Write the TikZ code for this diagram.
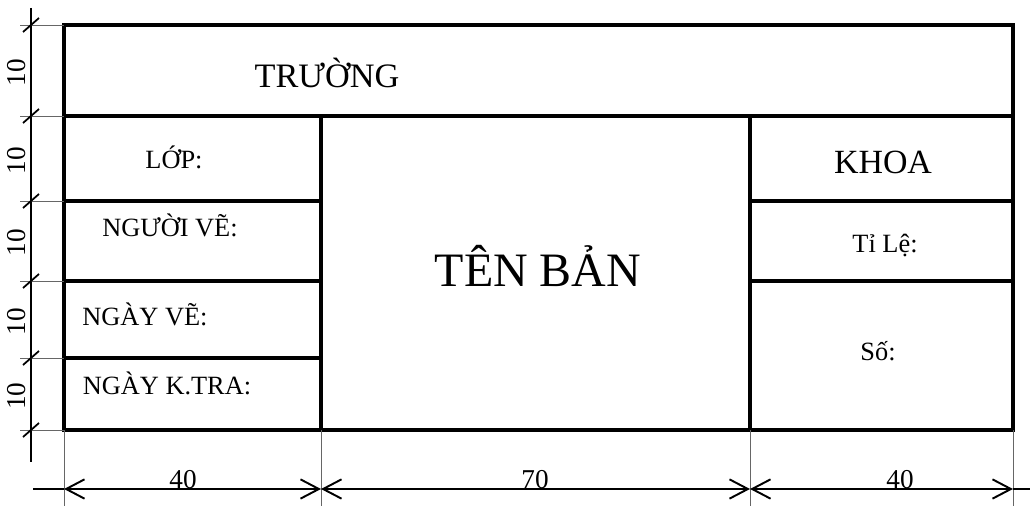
\documentclass[tikz,border=0pt]{standalone}
\usepackage{fontspec}
\setmainfont{Liberation Serif}
\usetikzlibrary{arrows.meta}
\tikzset{
	frame/.style={line width=2.3pt},
	cellline/.style={line width=1.8pt},
	thinline/.style={line width=0.5pt, black!60},
	dimtick/.style={line width=1pt},
	dimline/.style={line width=1.1pt, {Straight Barb[length=10.5pt,width=11pt,line width=1.1pt]}-{Straight Barb[length=10.5pt,width=11pt,line width=1.1pt]}},
	txt/.style={anchor=base, inner sep=0pt, font=\fontsize{15}{17}\selectfont},
	bigtxt/.style={anchor=base, inner sep=0pt, font=\fontsize{19.5}{22}\selectfont},
	dimtxt/.style={inner sep=0pt, font=\fontsize{15.5}{17}\selectfont}
}

\begin{document}
\begin{tikzpicture}[x=0.02cm, y=-0.02cm]
	\useasboundingbox (0,0) rectangle (1030,506);
	%%%%% FRAME %%%%%
	\draw[cellline] (64,116) -- (1013,116);
	\draw[cellline] (321,116) -- (321,430);
	\draw[cellline] (750,116) -- (750,430);
	\draw[cellline] (64,201) -- (321,201);
	\draw[cellline] (64,281) -- (321,281);
	\draw[cellline] (64,358) -- (321,358);
	\draw[cellline] (750,201) -- (1013,201);
	\draw[cellline] (750,281) -- (1013,281);
	\draw[frame] (64,25) rectangle (1013,430);
	
	%%%%% TEXTS %%%%%
	\node[bigtxt] (truong) at (327,88) {TRƯỜNG};
	\node[anchor=base, inner sep=0pt, font=\fontsize{27.3}{31}\selectfont] (tenban) at (538,287) {TÊN BẢN};
	\node[bigtxt, font=\fontsize{19.3}{22}\selectfont] (khoa) at (883,174) {KHOA};
	\node[txt] (tile) at (885,253) {Tỉ Lệ:};
	\node[txt] (so) at (878,360) {Số:};
	\node[txt] (lop) at (174,169) {LỚP:};
	\node[txt] (nguoive) at (170,237) {NGƯỜI VẼ:};
	\node[txt] (ngayve) at (145,325) {NGÀY VẼ:};
	\node[txt] (ngaykt) at (167,394) {NGÀY K.TRA:};
	
	%%%%% LEFT DIMENSIONS %%%%%
	\draw[line width=0.6pt] (31,8) -- (31,462);
	\foreach \y in {25,116,201,281,358,430} {
		\draw[thinline] (20,\y) -- (64,\y);
		\draw[dimtick] (23,\y+7) -- (39,\y-7);
	}
	\foreach \a/\b [count=\i] in {25/116,116/201,201/281,281/358,358/430}
		\node[dimtxt, rotate=90] (h\i) at (17,{(\a+\b)/2+2}) {10};
	
	%%%%% BOTTOM DIMENSIONS %%%%%
	\foreach \x in {64,321,750,1013}
		\draw[thinline] (\x,430) -- (\x,506);
	\coordinate (d0) at (64,489);
	\coordinate (d1) at (321,489);
	\coordinate (d2) at (750,489);
	\coordinate (d3) at (1013,489);
	\draw[line width=1.1pt] (33,489) -- (d0);
	\draw[line width=1.1pt] (d3) -- (1030,489);
	\draw[dimline] (d0) -- (d1);
	\draw[dimline] (d1) -- (d2);
	\draw[dimline] (d2) -- (d3);
	\node[txt, font=\fontsize{15.5}{17}\selectfont] (w1) at (183,488) {40};
	\node[txt, font=\fontsize{15.5}{17}\selectfont] (w2) at (535,488) {70};
	\node[txt, font=\fontsize{15.5}{17}\selectfont] (w3) at (900,488) {40};
\end{tikzpicture}
\end{document}
